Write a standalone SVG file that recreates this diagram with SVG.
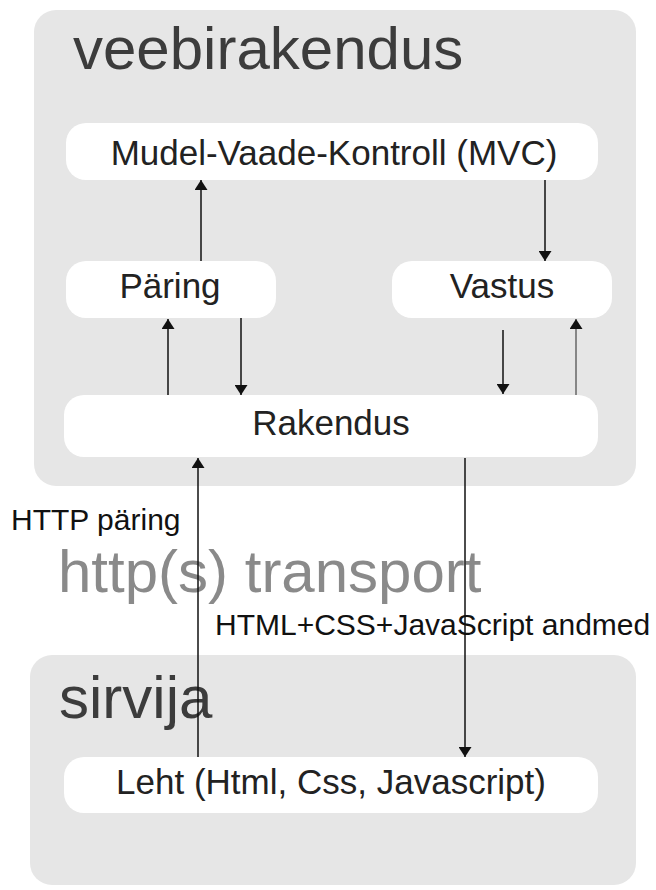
<svg xmlns="http://www.w3.org/2000/svg" width="656" height="890" viewBox="0 0 656 890">
<style>
.cont{fill:#e6e6e6}
.box{fill:#ffffff}
.title{font-family:"Liberation Sans",Arial,sans-serif;font-size:60px;fill:#3c3c3c}
.lbl{font-family:"Liberation Sans",Arial,sans-serif;font-size:35px;fill:#222;text-anchor:middle}
.note{font-family:"Liberation Sans",Arial,sans-serif;font-size:30px;fill:#111}
.trans{font-family:"Liberation Sans",Arial,sans-serif;font-size:60px;fill:#8a8a8a}
.ln{stroke:#111;stroke-width:1.5;fill:none}
</style>
<defs>
<marker id="ah" markerWidth="10" markerHeight="13" refX="10" refY="5" orient="auto" markerUnits="userSpaceOnUse" viewBox="0 0 10 10" preserveAspectRatio="none">
<path d="M0,0 L10,5 L0,10 z" fill="#111"/>
</marker>
</defs>
<g id="veebirakendus">
<rect class="cont" x="34" y="10" width="602" height="476" rx="22"/>
<text class="title" x="73" y="69">veebirakendus</text>
</g>
<g id="sirvija">
<rect class="cont" x="30" y="655" width="606" height="230" rx="22"/>
<text class="title" x="59" y="718">sirvija</text>
</g>
<g id="mvc">
<rect class="box" x="66" y="123" width="532" height="57" rx="20"/>
<text class="lbl" x="334" y="165">Mudel-Vaade-Kontroll (MVC)</text>
</g>
<g id="paring">
<rect class="box" x="66" y="261" width="210" height="57" rx="20"/>
<text class="lbl" x="170" y="298">Päring</text>
</g>
<g id="vastus">
<rect class="box" x="392" y="261" width="220" height="57" rx="20"/>
<text class="lbl" x="502" y="298">Vastus</text>
</g>
<g id="rakendus">
<rect class="box" x="64" y="395" width="534" height="62" rx="20"/>
<text class="lbl" x="331" y="435">Rakendus</text>
</g>
<g id="leht">
<rect class="box" x="64" y="757" width="534" height="56" rx="20"/>
<text class="lbl" x="331" y="794">Leht (Html, Css, Javascript)</text>
</g>
<g id="labels">
<text class="note" x="11" y="530">HTTP päring</text>
<text class="trans" x="58" y="592">http(s) transport</text>
<text class="note" x="215" y="635">HTML+CSS+JavaScript andmed</text>
</g>
<g id="connectors">
<line class="ln" x1="201" y1="261" x2="201" y2="180" marker-end="url(#ah)"/>
<line class="ln" x1="545" y1="180" x2="545" y2="261" marker-end="url(#ah)"/>
<line class="ln" x1="168" y1="395" x2="168" y2="319" marker-end="url(#ah)"/>
<line class="ln" x1="241" y1="318" x2="241" y2="395" marker-end="url(#ah)"/>
<line class="ln" x1="503" y1="330" x2="503" y2="394" marker-end="url(#ah)"/>
<line class="ln" x1="576" y1="395" x2="576" y2="319" marker-end="url(#ah)" style="stroke:#666"/>
<line class="ln" x1="198" y1="757" x2="198" y2="458" marker-end="url(#ah)"/>
<line class="ln" x1="465" y1="458" x2="465" y2="757" marker-end="url(#ah)"/>
</g>
</svg>
